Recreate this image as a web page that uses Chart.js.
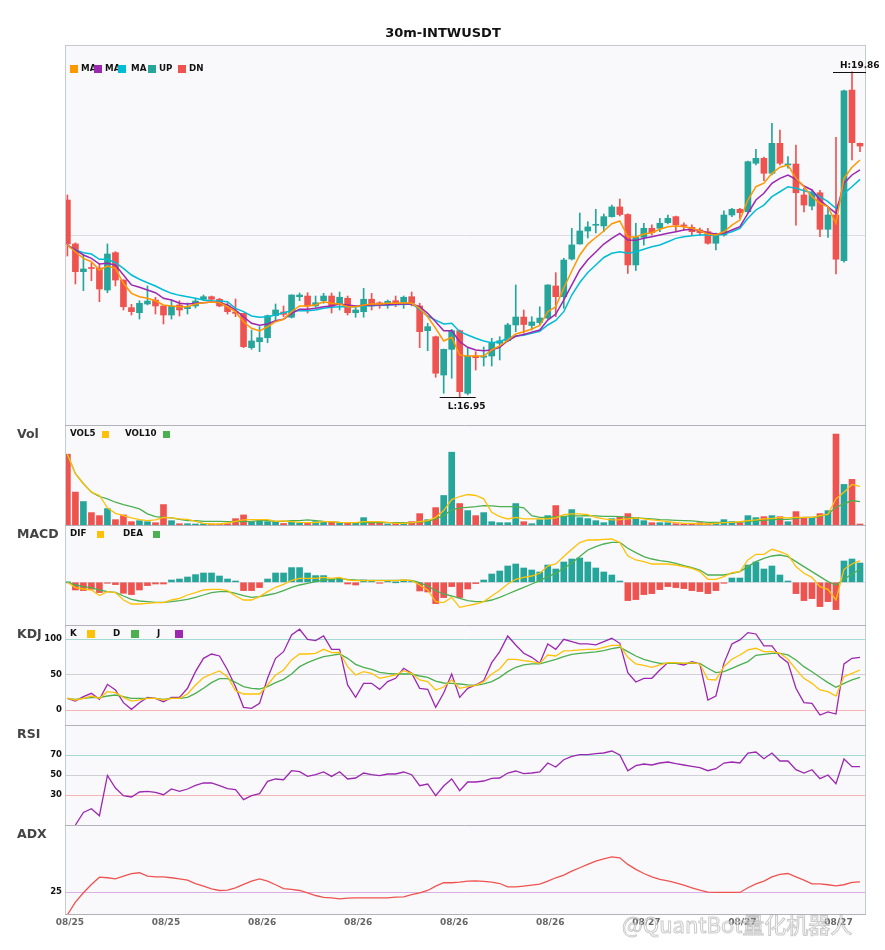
<!DOCTYPE html>
<html>
<head>
<meta charset="utf-8">
<script src="https://cdn.jsdelivr.net/npm/chart.js@4.4.1/dist/chart.umd.min.js"></script>
<style>
  html, body { margin: 0; padding: 0; background: #fff; }
  #wrap { position: relative; width: 885px; height: 950px; overflow: hidden; }
  #wrap canvas { position: absolute; left: 0; }
</style>
</head>
<body>
<div id="wrap">
  <canvas id="cMain" width="885" height="425" style="top:0px"></canvas>
  <canvas id="cVol" width="885" height="100" style="top:425px"></canvas>
  <canvas id="cMacd" width="885" height="100" style="top:525px"></canvas>
  <canvas id="cKdj" width="885" height="100" style="top:625px"></canvas>
  <canvas id="cRsi" width="885" height="100" style="top:725px"></canvas>
  <canvas id="cAdx" width="885" height="125" style="top:825px"></canvas>
</div>
<script>
// ---- Data (30m candles) ----
const dateLabels = ["08/25", "08/25", "08/26", "08/26", "08/26", "08/26", "08/27", "08/27", "08/27"];
const tickIdx = [0, 12, 24, 36, 48, 60, 72, 84, 96];

const open = [18.713, 18.32, 18.072, 18.102, 18.105, 17.908, 18.242, 17.997, 17.75, 17.705,
  17.783, 17.818, 17.765, 17.684, 17.774, 17.741, 17.765, 17.825, 17.848, 17.825,
  17.765, 17.711, 17.699, 17.392, 17.445, 17.481, 17.678, 17.711, 17.664, 17.848,
  17.854, 17.765, 17.812, 17.854, 17.789, 17.834, 17.705, 17.714, 17.825, 17.794,
  17.774, 17.812, 17.794, 17.848, 17.765, 17.544, 17.49, 17.147, 17.377, 17.544,
  16.984, 17.317, 17.306, 17.317, 17.431, 17.454, 17.595, 17.666, 17.59, 17.616,
  17.657, 17.944, 17.848, 18.185, 18.32, 18.436, 18.487, 18.481, 18.564, 18.651,
  18.583, 18.132, 18.379, 18.46, 18.46, 18.51, 18.564, 18.49, 18.469, 18.445,
  18.43, 18.326, 18.40, 18.579, 18.63, 18.608, 19.042, 19.086, 18.952, 19.22,
  19.027, 19.035, 18.758, 18.659, 18.778, 18.451, 18.579, 18.17, 19.697, 19.22];
const close = [18.32, 18.072, 18.096, 18.10, 17.917, 18.23, 17.997, 17.758, 17.714, 17.789,
  17.809, 17.765, 17.684, 17.765, 17.729, 17.758, 17.809, 17.848, 17.825, 17.765,
  17.714, 17.699, 17.401, 17.452, 17.481, 17.678, 17.729, 17.69, 17.863, 17.863,
  17.765, 17.794, 17.854, 17.765, 17.843, 17.705, 17.729, 17.825, 17.765, 17.774,
  17.807, 17.789, 17.843, 17.789, 17.535, 17.58, 17.163, 17.377, 17.544, 16.998,
  17.317, 17.302, 17.317, 17.431, 17.454, 17.595, 17.666, 17.599, 17.622, 17.657,
  17.953, 17.848, 18.176, 18.311, 18.436, 18.472, 18.492, 18.564, 18.651, 18.583,
  18.132, 18.379, 18.46, 18.421, 18.505, 18.549, 18.49, 18.481, 18.43, 18.421,
  18.326, 18.40, 18.579, 18.63, 18.60, 19.056, 19.086, 18.952, 19.22, 19.042,
  19.035, 18.778, 18.668, 18.778, 18.451, 18.579, 18.183, 19.691, 19.226, 19.196];
const high = [18.758, 18.33, 18.221, 18.149, 18.147, 18.32, 18.251, 18.0, 17.78, 17.812,
  17.944, 17.843, 17.77, 17.818, 17.812, 17.792, 17.827, 17.863, 17.854, 17.834,
  17.792, 17.827, 17.70, 17.55, 17.58, 17.684, 17.783, 17.765, 17.865, 17.881,
  17.884, 17.854, 17.878, 17.881, 17.89, 17.854, 17.758, 17.923, 17.878, 17.803,
  17.818, 17.854, 17.854, 17.89, 17.789, 17.61, 17.496, 17.38, 17.556, 17.55,
  17.386, 17.356, 17.398, 17.476, 17.49, 17.61, 17.953, 17.729, 17.669, 17.758,
  17.955, 18.063, 18.192, 18.46, 18.597, 18.519, 18.63, 18.588, 18.668, 18.722,
  18.59, 18.505, 18.505, 18.49, 18.549, 18.579, 18.57, 18.51, 18.49, 18.462,
  18.46, 18.418, 18.617, 18.639, 18.639, 19.062, 19.167, 19.098, 19.399, 19.339,
  19.101, 19.205, 18.818, 18.803, 18.80, 18.653, 19.274, 19.697, 19.86, 19.223];
const low = [18.212, 17.962, 17.902, 17.991, 17.803, 17.884, 17.944, 17.729, 17.684, 17.648,
  17.774, 17.693, 17.604, 17.648, 17.675, 17.693, 17.747, 17.812, 17.812, 17.758,
  17.693, 17.669, 17.392, 17.377, 17.356, 17.436, 17.639, 17.669, 17.657, 17.812,
  17.702, 17.753, 17.789, 17.702, 17.729, 17.684, 17.664, 17.664, 17.729, 17.744,
  17.744, 17.758, 17.744, 17.765, 17.392, 17.365, 17.127, 16.984, 17.118, 16.95,
  16.97, 17.192, 17.228, 17.228, 17.282, 17.445, 17.535, 17.52, 17.55, 17.595,
  17.648, 17.669, 17.744, 18.176, 18.317, 18.373, 18.418, 18.43, 18.56, 18.57,
  18.056, 18.082, 18.31, 18.40, 18.43, 18.50, 18.43, 18.445, 18.40, 18.40,
  18.317, 18.266, 18.39, 18.564, 18.549, 18.60, 19.027, 18.886, 18.937, 19.027,
  18.997, 18.489, 18.606, 18.624, 18.385, 18.379, 18.051, 18.158, 19.071, 19.145];

const ma5 = [18.310, 18.250, 18.191, 18.161, 18.087, 18.123, 18.102, 17.968, 17.878, 17.848,
  17.834, 17.812, 17.774, 17.765, 17.758, 17.758, 17.783, 17.794, 17.800, 17.794,
  17.758, 17.714, 17.624, 17.565, 17.541, 17.579, 17.624, 17.646, 17.714, 17.765,
  17.765, 17.774, 17.803, 17.789, 17.783, 17.758, 17.758, 17.774, 17.783, 17.783,
  17.789, 17.789, 17.794, 17.789, 17.744, 17.669, 17.565, 17.452, 17.485, 17.326,
  17.317, 17.317, 17.317, 17.371, 17.407, 17.460, 17.514, 17.535, 17.559, 17.590,
  17.714, 17.758, 17.926, 18.078, 18.221, 18.319, 18.378, 18.436, 18.501, 18.525,
  18.385, 18.382, 18.409, 18.421, 18.451, 18.474, 18.480, 18.474, 18.460, 18.438,
  18.409, 18.400, 18.429, 18.489, 18.534, 18.713, 18.832, 18.863, 18.952, 19.006,
  19.026, 18.907, 18.832, 18.743, 18.684, 18.653, 18.505, 18.907, 19.006, 19.071];
const ma10 = [18.310, 18.266, 18.221, 18.191, 18.140, 18.147, 18.131, 18.042, 17.953, 17.932,
  17.908, 17.884, 17.834, 17.818, 17.789, 17.783, 17.789, 17.794, 17.800, 17.794,
  17.774, 17.729, 17.669, 17.610, 17.592, 17.604, 17.633, 17.646, 17.699, 17.735,
  17.735, 17.744, 17.758, 17.765, 17.783, 17.774, 17.765, 17.771, 17.774, 17.774,
  17.776, 17.780, 17.783, 17.783, 17.758, 17.699, 17.624, 17.544, 17.544, 17.445,
  17.395, 17.371, 17.365, 17.371, 17.395, 17.454, 17.494, 17.510, 17.530, 17.550,
  17.639, 17.693, 17.818, 17.953, 18.087, 18.179, 18.248, 18.319, 18.370, 18.415,
  18.355, 18.352, 18.370, 18.385, 18.400, 18.415, 18.429, 18.445, 18.451, 18.438,
  18.421, 18.409, 18.415, 18.445, 18.474, 18.594, 18.713, 18.773, 18.863, 18.907,
  18.937, 18.898, 18.838, 18.803, 18.713, 18.653, 18.594, 18.863, 18.937, 18.982];
const ma20 = [18.310, 18.266, 18.242, 18.230, 18.183, 18.183, 18.152, 18.102, 18.042, 18.004,
  17.973, 17.944, 17.908, 17.878, 17.860, 17.848, 17.834, 17.818, 17.812, 17.809,
  17.803, 17.744, 17.714, 17.675, 17.664, 17.669, 17.684, 17.705, 17.723, 17.723,
  17.723, 17.729, 17.744, 17.753, 17.758, 17.758, 17.758, 17.765, 17.767, 17.771,
  17.774, 17.776, 17.780, 17.783, 17.735, 17.675, 17.639, 17.604, 17.610, 17.535,
  17.505, 17.476, 17.452, 17.436, 17.445, 17.476, 17.496, 17.502, 17.520, 17.539,
  17.595, 17.635, 17.714, 17.863, 17.975, 18.064, 18.131, 18.199, 18.236, 18.250,
  18.236, 18.250, 18.272, 18.295, 18.310, 18.340, 18.370, 18.385, 18.394, 18.400,
  18.400, 18.397, 18.409, 18.429, 18.460, 18.549, 18.624, 18.668, 18.743, 18.787,
  18.832, 18.818, 18.796, 18.778, 18.743, 18.698, 18.639, 18.773, 18.832, 18.898];

// volume (k)
const vol = [70.3, 32.7, 23.3, 12.3, 9.3, 16.3, 5.3, 10, 3.3, 4.3,
  3.3, 2.3, 20.3, 4.3, 1.3, 1.3, 0.7, 1.3, 0.7, 0.7,
  1.3, 6.3, 10, 3.3, 4.3, 3.3, 3.3, 1.5, 3.3, 1.7,
  1.7, 3.3, 3.3, 3.3, 1.7, 1.7, 1.7, 7.3, 1.7, 1.7,
  0.7, 1.7, 0.7, 3.3, 11.3, 5.3, 17.3, 29.3, 72.3, 21.3,
  14.3, 9.3, 12.3, 3.3, 2.3, 2.3, 21.3, 3.3, 1.3, 5.3,
  9.3, 19.3, 8.3, 15.3, 7.3, 6.3, 4.3, 2.3, 6.3, 8.3,
  11.3, 7.3, 4.3, 2.3, 2.3, 2.3, 1.3, 1.3, 1.3, 2.3,
  1.3, 2.3, 5.3, 3.3, 2.3, 9.3, 7.3, 8.3, 9.3, 8.3,
  3.3, 13.3, 7.3, 7.3, 11.3, 14.3, 90.3, 40.3, 45.3, 0.7];
const vol5 = [70.3, 51, 41, 32.6, 29.3, 17, 11.6, 9.3, 7, 5.3,
  4.3, 5, 7.6, 7, 6, 5.6, 3.6, 1.6, 1, 1,
  2, 3.6, 5, 5.3, 5.3, 5.3, 3.6, 4, 3.3, 2.6,
  2.3, 2.3, 3.3, 3.3, 2.6, 2.3, 2.3, 3.3, 3.3, 3.3,
  2.6, 1.6, 1.6, 2.3, 3.3, 4.3, 7.6, 14.3, 25.3, 28.3,
  30.3, 29.3, 26, 12.6, 8.3, 6, 7.6, 6, 6, 6,
  6, 7, 10.3, 11, 11, 10.3, 7.6, 6, 5, 5.3,
  6, 7, 6, 5, 4.3, 3.3, 2.3, 1.6, 1.6, 1,
  1, 1.6, 2.3, 2.6, 3.3, 4.3, 5, 6, 6.6, 7.6,
  7, 7.6, 7.6, 7.6, 9.3, 10.6, 26, 32.6, 40.3, 38.3];
const vol10 = [70.3, 51, 41, 32.6, 28.3, 26, 22.6, 20.3, 18.3, 16,
  11, 8.3, 7.6, 7, 5.6, 4.3, 4.3, 3.6, 3.6, 3.6,
  3.3, 3.3, 3.3, 3.6, 4.3, 4.3, 3.6, 3.6, 4.3, 4.3,
  5, 4.3, 3.6, 3.3, 2.6, 2.3, 2.3, 2.3, 2.3, 2.3,
  2.3, 2.3, 2.3, 2.3, 3, 3.6, 6, 9.3, 15, 17,
  17.6, 18.3, 19.3, 19, 18.3, 18.3, 18.3, 17, 9.3, 7.6,
  7.6, 8.3, 8.6, 9, 9, 9.3, 9, 8.6, 8.6, 8.3,
  7.6, 7, 6.6, 6, 5.3, 5, 4.6, 4.3, 4, 3.3,
  2.6, 2.6, 2.6, 2.6, 3, 3.6, 4.3, 4.6, 5.3, 5.6,
  5.6, 6.6, 7.6, 7.6, 8.3, 11, 17.6, 21, 24.3, 23.3];

// MACD
const dif = [0, -0.0053, -0.0067, -0.0077, -0.0133, -0.0093, -0.0103, -0.0177, -0.0217, -0.0217,
  -0.021, -0.0203, -0.0203, -0.0177, -0.016, -0.0127, -0.0103, -0.0077, -0.007, -0.007,
  -0.0083, -0.0137, -0.0177, -0.0177, -0.0143, -0.0093, -0.005, -0.002, 0.002, 0.004,
  0.004, 0.004, 0.005, 0.004, 0.005, 0.0023, 0.0017, 0.0017, 0.0017, 0.0017,
  0.0017, 0.0017, 0.0023, 0.0017, -0.0027, -0.0077, -0.0193, -0.0203, -0.015, -0.025,
  -0.0233, -0.0217, -0.0193, -0.0137, -0.0083, -0.0017, 0.003, 0.005, 0.0063, 0.009,
  0.0163, 0.0183, 0.0257, 0.033, 0.0397, 0.0423, 0.0423, 0.043, 0.0433, 0.0397,
  0.0263, 0.0223, 0.0207, 0.0183, 0.0183, 0.0183, 0.0173, 0.0157, 0.014, 0.0107,
  0.003, 0.003, 0.0057, 0.0097, 0.0107, 0.0223, 0.028, 0.028, 0.033, 0.0307,
  0.0273, 0.0157, 0.009, 0.005, -0.0043, -0.007, -0.0177, 0.013, 0.0183, 0.0217];
const dea = [0, -0.0027, -0.0043, -0.0053, -0.0077, -0.0093, -0.01, -0.0137, -0.017, -0.0187,
  -0.0193, -0.02, -0.02, -0.0193, -0.0183, -0.017, -0.015, -0.0127, -0.0103, -0.0093,
  -0.0093, -0.011, -0.0133, -0.015, -0.0143, -0.0127, -0.011, -0.0083, -0.005, -0.0027,
  -0.001, 0.0007, 0.0023, 0.003, 0.004, 0.003, 0.0023, 0.002, 0.002, 0.002,
  0.002, 0.002, 0.002, 0.002, -0.0003, -0.0037, -0.0083, -0.0117, -0.0137, -0.016,
  -0.0183, -0.0193, -0.0193, -0.0177, -0.015, -0.0117, -0.0083, -0.005, -0.0017, 0.0017,
  0.0057, 0.009, 0.014, 0.019, 0.0257, 0.0323, 0.0357, 0.0383, 0.04, 0.04,
  0.034, 0.0297, 0.0257, 0.0233, 0.0217, 0.0207, 0.019, 0.0167, 0.0147, 0.0123,
  0.0073, 0.0073, 0.0073, 0.009, 0.0107, 0.0157, 0.0207, 0.024, 0.0263, 0.0273,
  0.0257, 0.0207, 0.0157, 0.0107, 0.0057, 0.0007, -0.0027, 0.003, 0.0083, 0.013];
const macdHist = [0, -0.0077, -0.0083, -0.007, -0.0103, -0.001, -0.0023, -0.011, -0.0123, -0.0077,
  -0.0033, -0.0017, -0.0017, 0.0023, 0.0033, 0.0053, 0.0077, 0.0093, 0.0093, 0.0063,
  0.0033, 0.0013, -0.0083, -0.0083, -0.0053, 0.0033, 0.0093, 0.0093, 0.0147, 0.0147,
  0.0093, 0.0067, 0.0067, 0.0033, 0.004, -0.0017, -0.0027, 0.0023, 0.0013, -0.0007,
  0.0007, 0, 0.0023, 0.001, -0.0087, -0.0097, -0.0213, -0.0153, -0.0043, -0.0153,
  -0.0067, -0.0013, 0.0023, 0.0083, 0.0113, 0.0163, 0.0183, 0.0143, 0.0123, 0.0103,
  0.0173, 0.0133, 0.0203, 0.0233, 0.0243, 0.0203, 0.0143, 0.0103, 0.0073, 0.0013,
  -0.0183, -0.0173, -0.0123, -0.0113, -0.0073, -0.0043, -0.0053, -0.0063, -0.0083, -0.0093,
  -0.0113, -0.0083, -0.0007, 0.0043, 0.0043, 0.0173, 0.0203, 0.0133, 0.0163, 0.0073,
  0.0013, -0.0113, -0.0183, -0.0163, -0.0243, -0.0193, -0.0273, 0.0213, 0.0233, 0.0193];

// KDJ
const kdjK = [16.5, 14.2, 16.5, 19.8, 16.5, 25.9, 24.5, 17.9, 12.7, 14.2,
  16.5, 16.5, 14.2, 16.5, 16.5, 22.6, 35.4, 45.8, 50.9, 55.2,
  47.2, 27.4, 22.6, 22.6, 22.6, 35.4, 49.5, 56.6, 70.8, 79.2,
  79.2, 80.2, 85.8, 81.1, 81.6, 61.3, 49.5, 54.2, 51.9, 44.8,
  47.2, 49.5, 55.7, 51.9, 42.5, 40.1, 28.3, 32.5, 42.5, 30.7,
  33, 34.9, 40.1, 50.9, 58, 71.7, 71.7, 69.8, 68.4, 66,
  77.8, 76.4, 83.5, 84, 84.9, 85.8, 85.8, 88.7, 91.5, 91.5,
  74.5, 65.1, 63.2, 60.4, 63.7, 67, 67, 66, 67, 65.1,
  43.4, 42.5, 61.3, 71.7, 77.8, 84.9, 87.3, 82.5, 82.5, 80.2,
  71.7, 57.5, 44.8, 37.7, 28.3, 25.9, 19.8, 47.2, 51.9, 56.6];
const kdjD = [16.5, 15.1, 16.5, 17.5, 17.5, 19.8, 21.2, 18.9, 16.5, 16.5,
  16.5, 16.5, 15.1, 16.5, 16.5, 17.9, 23.6, 30.7, 38.7, 44.3,
  44.3, 39.2, 33, 30.7, 29.7, 33, 38.7, 43.4, 50.9, 61.3,
  67, 71.7, 75.5, 77.4, 79.2, 73.1, 64.6, 60.4, 57.5, 53.3,
  51.9, 50.9, 50.9, 50.9, 48.1, 46.2, 41, 38.2, 37.7, 36.8,
  35.4, 34.9, 36.8, 40.1, 46.2, 54.2, 60.4, 63.7, 65.1, 65.1,
  68.4, 71.7, 75.5, 78.8, 80.2, 81.1, 82.1, 84, 86.8, 88.7,
  82.5, 76.4, 71.7, 68.4, 66, 66, 66, 66, 66, 66,
  59, 52.8, 54.2, 59, 63.7, 68.4, 77.4, 78.8, 80.2, 80.2,
  77.8, 70.8, 61.3, 54.2, 46.2, 38.7, 32.1, 37.7, 42.5, 46.2];
const kdjJ = [16.5, 12.7, 18.9, 23.6, 15.1, 36.3, 28.3, 10.4, 0.9, 10.4,
  17.9, 16.5, 11.8, 17.9, 17.9, 30.7, 54.2, 73.1, 79.2, 76.4,
  56.6, 33, 3.8, 2.4, 9.4, 44.8, 73.1, 82.5, 106.1, 114.2,
  100, 98.1, 104.7, 85.8, 85.8, 35.4, 17.9, 37.7, 37.7, 29.2,
  40.1, 44.8, 59, 51.9, 30.7, 29.2, 3.8, 24, 50.9, 17.9,
  30.7, 35.4, 41.5, 67, 82.5, 104.7, 92, 80.2, 74.5, 66,
  93.4, 85.8, 100, 96.7, 93.4, 93.4, 92, 96.7, 101.4, 94.3,
  52.8, 39.6, 44.8, 44.8, 56.6, 67, 66, 63.7, 68.4, 65.1,
  14.2, 19.8, 66, 93.4, 99.1, 109.4, 107.5, 90.6, 90.6, 75.5,
  67, 30.7, 10.4, 9.4, -7.1, -2.8, -5.7, 65.1, 73.1, 74.5];

const rsi = [null, 0, 12.6, 16.3, 9.3, 49.6, 37, 29.3, 28, 33,
  33.6, 32.6, 30.3, 36, 33.6, 36, 39.6, 42, 42, 39.3,
  36.3, 35.3, 25.3, 29.3, 31.3, 43.6, 46, 45.3, 54.3, 53.3,
  48.6, 50.3, 53, 48.6, 53.3, 46, 47, 52, 50.3, 49.3,
  51, 51, 53, 50.3, 39.3, 41, 29.3, 39, 46, 34.3,
  43, 43, 44, 46.6, 47, 52, 54, 51.3, 52, 53,
  62, 58, 65.3, 68.6, 70.3, 70.3, 71.3, 72, 74, 70,
  54.3, 59.3, 61, 60, 62, 63, 61.3, 60, 58.6, 57.3,
  54.3, 56.3, 62, 63, 62, 72, 73, 66.3, 72, 64,
  64, 55.3, 52, 55.3, 46.3, 50, 41.3, 66, 58.3, 58.3];

const adx = [10, 18.3, 24.5, 30, 34.8, 34.4, 33.7, 35.5, 37.2, 37.7,
  35.5, 35, 35, 34.4, 33.7, 32.8, 30.6, 28.9, 27.1, 26,
  26.2, 27.8, 30, 32.2, 33.7, 32.2, 29.8, 27.3, 26.7, 26,
  24.5, 22.7, 21.4, 21.2, 20.5, 21, 21.2, 21.2, 21.2, 21.2,
  21.2, 21.6, 21.8, 23.2, 24.5, 26, 28.9, 31.1, 31.1, 31.5,
  32.2, 32.4, 32, 31.5, 30.6, 28.4, 28.4, 28.9, 29.5, 30.2,
  32.2, 34.4, 36.1, 38.8, 41, 43.2, 45.4, 46.9, 48.2, 47.6,
  43.2, 39.9, 37.2, 35, 33.3, 32.4, 31.1, 29.5, 27.8, 26.2,
  24.9, 24.7, 24.7, 24.7, 24.7, 27.8, 30.4, 32.2, 35, 36.6,
  37.2, 35, 32.8, 30.4, 30.4, 29.8, 29.1, 29.8, 31.3, 31.7];

// ---- Styles ----
const FONT = "'DejaVu Sans', Verdana, sans-serif";
const UP = "#26a69a", DN = "#ef5350";
const ORANGE = "#ff9800", PURPLE = "#9c27b0", CYAN = "#00bcd4", YEL = "#ffc107", GRN = "#4caf50";

const idx = open.map((_, i) => i);
const pts = (arr) => idx.map((i) => ({ x: i, y: arr[i] }));
const candleCol = idx.map((i) => (close[i] >= open[i] ? UP : DN));

function line(arr, color, w = 1.3) {
  return { type: "line", data: pts(arr), borderColor: color, borderWidth: w, pointRadius: 0, tension: 0, spanGaps: true, order: 0 };
}
function bars(data, colors, thick, order = 1) {
  return { type: "bar", data, backgroundColor: colors, barThickness: thick, grouped: false, minBarLength: 1, borderWidth: 0, order };
}

// Rahmen, Panelnamen, Legenden – pro Canvas
const decorCfg = {
  cMain: {
    topColor: "#c8c8d0", legendY: 69, box: 8,
    items: [
      { text: "MA", tx: 81, bx: 70, color: ORANGE }, { text: "MA", tx: 105, bx: 94, color: PURPLE },
      { text: "MA", tx: 131, bx: 118, color: CYAN }, { text: "UP", tx: 159, bx: 148, color: UP },
      { text: "DN", tx: 189, bx: 178, color: DN },
    ],
    extra(chart, ctx) {
      ctx.font = "bold 13px " + FONT; ctx.fillStyle = "#111"; ctx.textAlign = "center";
      ctx.fillText("30m-INTWUSDT", 443, 34);
      ctx.textAlign = "left";
      const xs = chart.scales.x, ys = chart.scales.y, right = chart.chartArea.right;
      const hi = Math.max(...high), lo = Math.min(...low);
      const hx = xs.getPixelForValue(high.indexOf(hi)), hy = Math.round(ys.getPixelForValue(hi)) + 0.5;
      const lx = xs.getPixelForValue(low.indexOf(lo)), ly = Math.round(ys.getPixelForValue(lo)) + 0.5;
      ctx.strokeStyle = "#111"; ctx.lineWidth = 1.2;
      ctx.beginPath();
      ctx.moveTo(hx - 19, hy); ctx.lineTo(Math.min(hx + 17, right), hy);
      ctx.moveTo(lx - 20, ly); ctx.lineTo(lx + 16, ly);
      ctx.stroke();
      ctx.font = "bold 9px " + FONT; ctx.fillStyle = "#111";
      ctx.fillText("H:" + hi.toFixed(2), hx - 12, hy - 7);
      ctx.fillText("L:" + lo.toFixed(2), lx - 12, ly + 9.5);
    },
  },
  cVol: { name: "Vol", nameY: 10, legendY: 9, box: 7,
    items: [{ text: "VOL5", tx: 70, bx: 102, color: YEL }, { text: "VOL10", tx: 125, bx: 163, color: GRN }] },
  cMacd: { name: "MACD", nameY: 10, legendY: 9, box: 7,
    items: [{ text: "DIF", tx: 70, bx: 97, color: YEL }, { text: "DEA", tx: 123, bx: 153, color: GRN }] },
  cKdj: { name: "KDJ", nameY: 10, legendY: 8.5, box: 8,
    items: [{ text: "K", tx: 70, bx: 87, color: YEL }, { text: "D", tx: 113, bx: 131, color: GRN }, { text: "J", tx: 157, bx: 175, color: PURPLE }] },
  cRsi: { name: "RSI", nameY: 10, items: [] },
  cAdx: { name: "ADX", nameY: 10, items: [], bottom: true,
    extra(chart, ctx) {
      // Wasserzeichen
      ctx.font = "22px 'Noto Sans CJK SC', sans-serif"; ctx.textBaseline = "middle";
      ctx.lineWidth = 1; ctx.strokeStyle = "rgba(150,150,150,0.5)"; ctx.fillStyle = "rgba(255,255,255,0.6)";
      ctx.fillText("@QuantBot量化机器人", 622, 100); ctx.strokeText("@QuantBot量化机器人", 622, 100);
    },
  },
};

const decorPlugin = {
  id: "decor",
  beforeDraw(chart) {
    const { ctx, chartArea: a } = chart;
    ctx.save();
    ctx.fillStyle = "#f9f9fb";
    ctx.fillRect(a.left, a.top, a.right - a.left, a.bottom - a.top);
    ctx.restore();
  },
  afterDraw(chart) {
    const o = decorCfg[chart.canvas.id];
    const { ctx, chartArea: a } = chart;
    ctx.save();
    ctx.lineWidth = 1;
    ctx.strokeStyle = "#c9c9d1";
    ctx.beginPath();
    ctx.moveTo(a.left + 0.5, a.top); ctx.lineTo(a.left + 0.5, a.bottom);
    ctx.moveTo(a.right - 0.5, a.top); ctx.lineTo(a.right - 0.5, a.bottom);
    ctx.stroke();
    ctx.strokeStyle = o.topColor || "#b2b2ba";
    ctx.beginPath(); ctx.moveTo(a.left, a.top + 0.5); ctx.lineTo(a.right, a.top + 0.5);
    if (o.bottom) { ctx.moveTo(a.left, a.bottom - 0.5); ctx.lineTo(a.right, a.bottom - 0.5); }
    ctx.stroke();
    ctx.textBaseline = "middle"; ctx.textAlign = "left";
    if (o.name) { ctx.font = "bold 12.5px " + FONT; ctx.fillStyle = "#444"; ctx.fillText(o.name, 17, o.nameY); }
    ctx.font = "bold 8.7px " + FONT;
    o.items.forEach((it) => { ctx.fillStyle = "#111"; ctx.fillText(it.text, it.tx, o.legendY); });
    o.items.forEach((it) => { ctx.fillStyle = it.color; ctx.fillRect(it.bx, Math.round(o.legendY - o.box / 2), o.box, o.box); });
    if (o.extra) o.extra(chart, ctx);
    ctx.restore();
  },
};

function xScale(show) {
  return {
    type: "linear", min: -0.3, max: 99.75, offset: false, display: show,
    grid: { display: false, drawTicks: false, tickLength: 0 }, border: { display: false },
    afterBuildTicks: (s) => { s.ticks = tickIdx.map((v) => ({ value: v })); },
    afterFit: (s) => { if (show) s.height = 35; s.paddingLeft = 0; s.paddingRight = 0; },
    ticks: { autoSkip: false, maxRotation: 0, padding: 2, labelOffset: 2.5, color: "#666", font: { family: FONT, size: 9, weight: "bold" },
      callback: (v) => dateLabels[tickIdx.indexOf(v)] },
  };
}
function yScale(min, max, ticks, colorOf, labels) {
  return {
    min, max, position: "left",
    afterFit: (s) => { s.width = 65; s.paddingTop = 0; s.paddingBottom = 0; },
    afterBuildTicks: (s) => { s.ticks = ticks.map((v) => ({ value: v })); },
    grid: { display: ticks.length > 0, drawTicks: false, tickLength: 0, lineWidth: 1, color: (c) => colorOf(c.tick ? c.tick.value : 0) },
    border: { display: false },
    ticks: { display: labels, padding: 3, color: "#111", font: { family: FONT, size: 8.5, weight: "bold" } },
  };
}
const bandColor = (hiV, loV) => (v) => (v === hiV ? "#a3dbd2" : v === loV ? "#f6b4b4" : "#cfcfd5");

function panel(id, datasets, y, padTop, showX) {
  return new Chart(document.getElementById(id), {
    type: "bar",
    data: { datasets },
    options: {
      responsive: false, animation: false, events: [],
      layout: { padding: { left: 0, right: 19, top: padTop, bottom: 0 } },
      plugins: { legend: { display: false }, tooltip: { enabled: false } },
      scales: { x: xScale(showX), y },
    },
    plugins: [decorPlugin],
  });
}

// ---- Kerzen + MA ----
panel("cMain", [
  line(ma5, ORANGE, 1.5), line(ma10, PURPLE, 1.5), line(ma20, CYAN, 1.5),
  bars(idx.map((i) => ({ x: i, y: [open[i], close[i]] })), candleCol, 6, 1),
  bars(idx.map((i) => ({ x: i, y: [low[i], high[i]] })), candleCol, 1, 2),
], yScale(16.7, 20.1, [18.4], () => "#dcdce4", false), 45, false);

// ---- Volumen ----
panel("cVol", [
  line(vol5, YEL), line(vol10, GRN),
  bars(pts(vol), candleCol, 6, 1),
], yScale(0, 99.3, [], () => "#ddd", false), 0, false);

// ---- MACD ----
panel("cMacd", [
  line(dif, YEL), line(dea, GRN),
  bars(pts(macdHist), macdHist.map((v) => (v < 0 ? DN : UP)), 6, 1),
], yScale(-0.0427, 0.0573, [0], () => "#dcdce4", false), 0, false);

// ---- KDJ ----
panel("cKdj", [line(kdjK, YEL), line(kdjD, GRN), line(kdjJ, PURPLE)],
  yScale(-21.2, 120.2, [0, 50, 100], bandColor(100, 0), true), 0, false);

// ---- RSI ----
panel("cRsi", [line(rsi, PURPLE)], yScale(0, 100, [30, 50, 70], bandColor(70, 30), true), 0, false);

// ---- ADX ----
panel("cAdx", [line(adx, DN)], yScale(9.84, 69.2, [25], () => "#dcaee6", true), 0, true);
</script>
</body>
</html>
